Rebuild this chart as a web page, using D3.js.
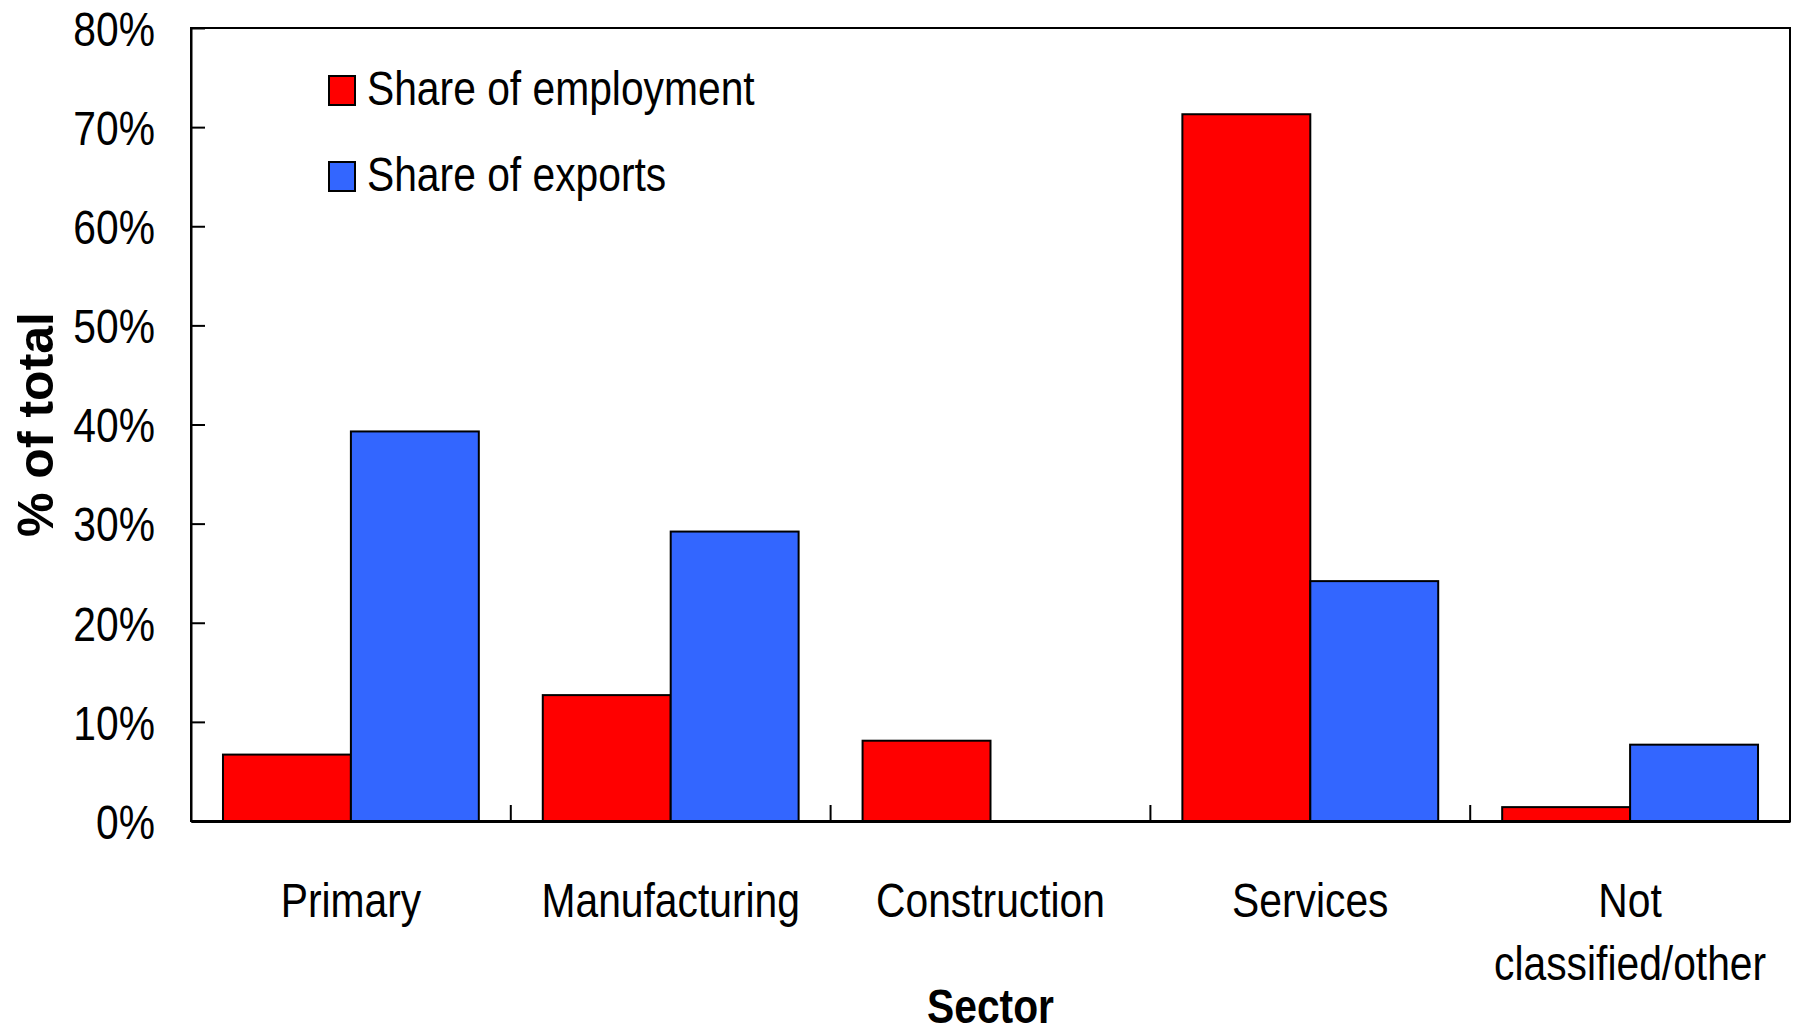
<!DOCTYPE html>
<html lang="en">
<head>
    <meta charset="UTF-8">
    <title>Share of employment and exports by sector</title>
    <script src="https://d3js.org/d3.v7.min.js"></script>
    <style>
        body {
            margin: 0;
            background: #fff;
        }
        .chart text {
            font-family: "Liberation Sans", Arial, sans-serif;
            font-size: 48px;
            fill: #000;
        }
        /* the original uses a condensed face; squeeze the regular one */
        .chart text.narrow {
            transform: scaleX(0.85);
            transform-box: fill-box;
        }
        .chart text.narrow.start { transform-origin: left center; }
        .chart text.narrow.mid { transform-origin: center center; }
        .chart text.narrow.end { transform-origin: right center; }
        .chart .title {
            font-weight: bold;
        }
        .chart .ytitle {
            font-weight: bold;
            font-size: 50px;
        }
        .bar {
            stroke: #000;
            stroke-width: 2px;
        }
    </style>
</head>
<body>
    <svg id="chart" class="chart"></svg>

    <script>
        // data (values in %)
        const categories = ["Primary", "Manufacturing", "Construction", "Services", "Not classified/other"];
        const categoryLines = [["Primary"], ["Manufacturing"], ["Construction"], ["Services"], ["Not", "classified/other"]];
        const seriesNames = ["Share of employment", "Share of exports"];
        const employment = [6.7, 12.7, 8.1, 71.3, 1.4];
        const exports = [39.3, 29.2, 0, 24.2, 7.7];
        const colors = ["#ff0000", "#3366ff"];
        const yTicks = [0, 10, 20, 30, 40, 50, 60, 70, 80];

        const width = 1797;
        const height = 1032;
        const margin = { top: 28, right: 7, bottom: 211, left: 191 };

        const svg = d3.select("#chart")
            .attr("width", width)
            .attr("height", height);

        const x0 = d3.scaleBand()
            .domain(categories)
            .range([margin.left, width - margin.right])
            .paddingInner(0)
            .paddingOuter(0);

        const x1 = d3.scaleBand()
            .domain(seriesNames)
            .range([0, x0.bandwidth()])
            .paddingInner(0)
            .paddingOuter(0.25);

        const y = d3.scaleLinear()
            .domain([0, 80])
            .range([height - margin.bottom, margin.top]);

        const rows = categories.map((c, i) => ({
            category: c,
            values: [
                { name: seriesNames[0], value: employment[i] },
                { name: seriesNames[1], value: exports[i] }
            ]
        }));

        // plot frame
        svg.append("rect")
            .attr("x", margin.left)
            .attr("y", margin.top)
            .attr("width", x0.range()[1] - margin.left)
            .attr("height", y(0) - margin.top)
            .attr("fill", "none")
            .attr("stroke", "#000")
            .attr("stroke-width", 2);

        // bars
        const groups = svg.append("g")
            .selectAll("g")
            .data(rows)
            .join("g")
            .attr("transform", d => "translate(" + x0(d.category) + ",0)");

        groups.selectAll("rect")
            .data(d => d.values)
            .join("rect")
            .attr("class", "bar")
            .attr("x", d => x1(d.name))
            .attr("y", d => y(d.value))
            .attr("width", x1.bandwidth())
            .attr("height", d => y(0) - y(d.value))
            .attr("fill", (d, i) => colors[i]);

        // y axis, ticks pointing inward
        const yAxis = svg.append("g")
            .attr("transform", "translate(" + margin.left + ",0)")
            .call(d3.axisLeft(y)
                .tickValues(yTicks)
                .tickFormat(d => d + "%")
                .tickSizeInner(-14)
                .tickSizeOuter(0)
                .tickPadding(36));
        yAxis.select(".domain").attr("stroke-width", 2);
        yAxis.selectAll(".tick line").attr("stroke-width", 2);
        yAxis.selectAll("text")
            .attr("class", "narrow end")
            .attr("font-family", null)
            .attr("font-size", null)
            .attr("dy", "0.36em");

        // x axis: labels centred, tick marks between categories
        const xAxis = svg.append("g")
            .attr("transform", "translate(0," + y(0) + ")")
            .call(d3.axisBottom(x0).tickSize(0).tickSizeOuter(0));
        xAxis.select(".domain").attr("stroke-width", 3);
        xAxis.selectAll(".tick text")
            .attr("class", "narrow mid")
            .attr("font-family", null)
            .attr("font-size", null)
            .attr("y", 96)
            .attr("dy", 0)
            .each(function(d, i) {
                const t = d3.select(this).text(null);
                categoryLines[i].forEach((line, j) => {
                    t.append("tspan")
                        .attr("x", 0)
                        .attr("dy", j === 0 ? 0 : 63)
                        .text(line);
                });
            });

        svg.append("g")
            .selectAll("line")
            .data(categories.slice(1))
            .join("line")
            .attr("x1", d => x0(d))
            .attr("x2", d => x0(d))
            .attr("y1", y(0))
            .attr("y2", y(0) - 16)
            .attr("stroke", "#000")
            .attr("stroke-width", 2);

        // axis titles
        svg.append("text")
            .attr("class", "title narrow mid")
            .attr("x", (margin.left + x0.range()[1]) / 2)
            .attr("y", 1023)
            .attr("text-anchor", "middle")
            .text("Sector");

        svg.append("text")
            .attr("class", "ytitle")
            .attr("transform", "translate(53," + ((margin.top + y(0)) / 2) + ") rotate(-90)")
            .attr("text-anchor", "middle")
            .text("% of total");

        // legend
        const legend = svg.append("g")
            .attr("transform", "translate(329,76)");

        seriesNames.forEach((name, i) => {
            legend.append("rect")
                .attr("x", 0)
                .attr("y", i * 86)
                .attr("width", 26)
                .attr("height", 29)
                .attr("fill", colors[i])
                .attr("stroke", "#000")
                .attr("stroke-width", 2);

            legend.append("text")
                .attr("class", "narrow start")
                .attr("x", 38)
                .attr("y", i * 86 + 29)
                .text(name);
        });
    </script>
</body>
</html>
